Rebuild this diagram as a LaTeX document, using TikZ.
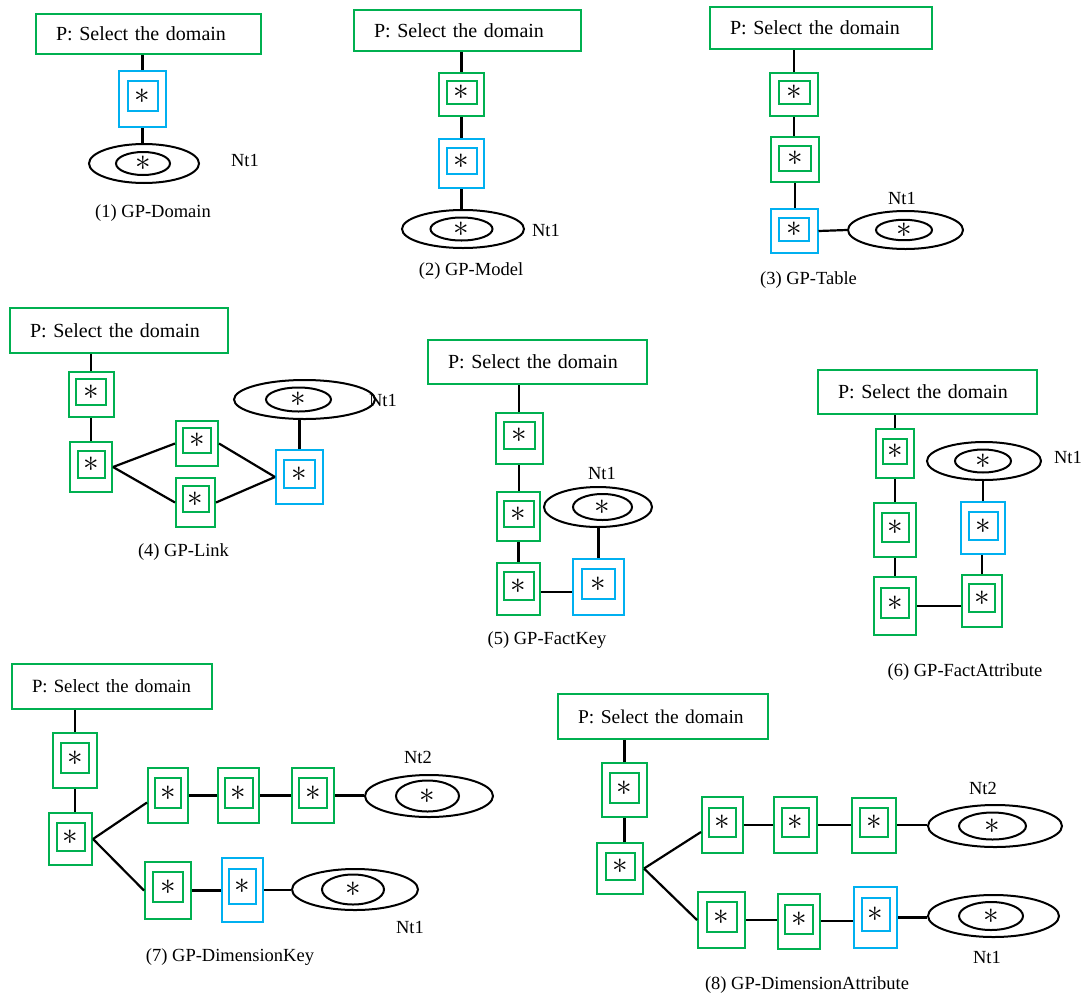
\documentclass[tikz,border=0pt]{standalone}
\usepackage{fontspec}
\setmainfont{Liberation Serif}
\usetikzlibrary{shapes.geometric}
\definecolor{gr}{RGB}{0,176,80}
\definecolor{bl}{RGB}{0,176,240}
\newcommand{\starsym}{\scalebox{1.25}{$\ast$}}
\tikzset{
  every node/.style={font=\fontsize{18.5}{22}\selectfont},
  ob/.style={draw=#1, line width=2pt, inner sep=0pt},
  ib/.style={draw=#1, line width=2pt, inner sep=0pt, font=\fontsize{30}{30}\selectfont},
  oe/.style={draw, ellipse, line width=2pt, inner sep=0pt},
  ln/.style={line width=2.2pt},
  topbox/.style={draw=gr, line width=2pt, anchor=north west, inner xsep=20pt, inner ysep=0pt, align=left, font=\fontsize{20}{24}\selectfont},
  lbl/.style={inner sep=0pt},
}
% name, colour, cx, cy, outer w, outer h, inner w, inner h, inner dy
\newcommand{\dbox}[9]{%
  \node[ob=#2, minimum width=#5pt, minimum height=#6pt] (#1) at (#3,#4) {};
  \node[ib=#2, minimum width=#7pt, minimum height=#8pt] (#1i) at (#3,{#4+(#9)}) {\starsym};}
% name, cx, cy, outer w, outer h, inner dx, inner w, inner h
\newcommand{\ntell}[8]{%
  \node[oe, minimum width=#4pt, minimum height=#5pt] (#1) at (#2,#3) {};
  \node[oe, minimum width=#7pt, minimum height=#8pt, font=\fontsize{30}{30}\selectfont] (#1i) at ({#2+(#6)},#3) {\starsym};}
\begin{document}
\begin{tikzpicture}[x=1pt,y=-1pt]
\useasboundingbox (0,0) rectangle (1086,996);

% ---------- (1) GP-Domain
\node[topbox, text width=185pt, minimum height=40pt] (top1) at (35,13) {P: Select the domain};
\dbox{b1a}{bl}{142.5}{99}{47}{56}{30}{30}{-3}
\ntell{ell1}{144}{163.5}{110}{39}{-1}{54}{23}
\draw[ln] (b1a.north) -- (top1.south -| b1a.north);
\draw[ln] (b1a.south) -- (b1a.south |- ell1.north);
\node[lbl] (lab1) at (245,160) {Nt1};
\node[lbl] (cap1) at (153,213) {(1) GP-Domain};

% ---------- (2) GP-Model
\node[topbox, text width=187pt, minimum height=41pt] (top2) at (353,9) {P: Select the domain};
\dbox{b2a}{gr}{461.5}{94.5}{45}{43}{30}{23}{-2}
\dbox{b2b}{bl}{461.5}{163.5}{45}{49}{30}{26}{-2.5}
\ntell{ell2}{463}{229}{122}{38}{-1.5}{62}{23}
\draw[ln] (b2a.north) -- (top2.south -| b2a.north);
\draw[ln] (b2a.south) -- (b2a.south |- b2b.north);
\draw[ln] (b2b.south) -- (b2b.south |- ell2.north);
\node[lbl] (lab2) at (546,230) {Nt1};
\node[lbl] (cap2) at (471,271) {(2) GP-Model};

% ---------- (3) GP-Table
\node[topbox, text width=182pt, minimum height=42pt] (top3) at (709,6) {P: Select the domain};
\dbox{b3a}{gr}{794}{94.5}{48}{43}{31}{23}{-2}
\dbox{b3b}{gr}{795}{159.5}{48}{45}{32}{25}{-1}
\dbox{b3c}{bl}{794}{231}{47}{44}{30}{23}{-1.5}
\ntell{ell3}{905.5}{230}{115}{38}{-1.5}{56}{20}
\draw[ln] (b3a.north) -- (top3.south -| b3a.north);
\draw[ln] (b3a.south) -- (b3a.south |- b3b.north);
\draw[ln] (b3b.south) -- (b3b.south |- b3c.north);
\draw[ln] (b3c.east) -- (ell3.west);
\node[lbl] (lab3) at (902,198) {Nt1};
\node[lbl] (cap3) at (808.5,280) {(3) GP-Table};

% ---------- (4) GP-Link
\node[topbox, text width=178pt, minimum height=45pt] (top4) at (9,307) {P: Select the domain};
\dbox{b4a}{gr}{91}{394.5}{45}{45}{30}{26}{-2.5}
\dbox{b4b}{gr}{91}{467}{42}{50}{27}{27}{-2.5}
\dbox{b4c}{gr}{197}{443.5}{42}{45}{28}{25}{-3}
\dbox{b4d}{gr}{195.5}{502.5}{39}{49}{26}{26}{-3.5}
\dbox{b4e}{bl}{299.5}{477}{47}{54}{31}{28}{-3}
\ntell{ell4}{304.5}{399.5}{141}{39}{-6}{65}{24}
\draw[ln] (b4a.north) -- (top4.south -| b4a.north);
\draw[ln] (b4a.south) -- (b4a.south |- b4b.north);
\draw[ln] (b4b.east) -- (b4c.west);
\draw[ln] (b4b.east) -- (b4d.west);
\draw[ln] (b4c.east) -- (b4e.west);
\draw[ln] (b4d.east) -- (b4e.west);
\draw[ln] (b4e.north) -- (b4e.north |- ell4.south);
\node[lbl] (lab4) at (383,400) {Nt1};
\node[lbl] (cap4) at (183.5,552) {(4) GP-Link};

% ---------- (5) GP-FactKey
\node[topbox, text width=179pt, minimum height=44pt] (top5) at (427,339) {P: Select the domain};
\dbox{b5a}{gr}{519}{438.5}{47}{51}{31}{27}{-3}
\dbox{b5b}{gr}{518.5}{516.5}{43}{49}{30}{26}{-2.5}
\dbox{b5c}{gr}{518.5}{589}{43}{52}{30}{28}{-3}
\dbox{b5d}{bl}{598.5}{587}{51}{56}{33}{30}{-3}
\ntell{ell5}{598}{507}{108}{40}{4.5}{59}{26}
\draw[ln] (b5a.north) -- (top5.south -| b5a.north);
\draw[ln] (b5a.south) -- (b5a.south |- b5b.north);
\draw[ln] (b5b.south) -- (b5b.south |- b5c.north);
\draw[ln] ([yshift=-3pt]b5c.east) -- ([yshift=-3pt]b5c.east -| b5d.west);
\draw[ln] (b5d.north) -- (b5d.north |- ell5.south);
\node[lbl] (lab5) at (602,473) {Nt1};
\node[lbl] (cap5) at (547,640) {(5) GP-FactKey};

% ---------- (6) GP-FactAttribute
\node[topbox, text width=179pt, minimum height=44pt] (top6) at (817,369) {P: Select the domain};
\dbox{b6a}{gr}{895}{453.5}{38}{49}{24}{25}{-2}
\dbox{b6b}{gr}{895}{530}{42}{54}{27}{29}{-2.5}
\dbox{b6c}{gr}{895}{606}{42}{58}{28}{30}{-3}
\dbox{b6d}{gr}{982}{601}{40}{52}{26}{28}{-3}
\dbox{b6e}{bl}{983}{528}{44}{52}{29}{28}{-2}
\ntell{ell6}{984}{461}{114}{38}{-1}{56}{23}
\draw[ln] (b6a.north) -- (top6.south -| b6a.north);
\draw[ln] (b6a.south) -- (b6a.south |- b6b.north);
\draw[ln] (b6b.south) -- (b6b.south |- b6c.north);
\draw[ln] (b6c.east) -- (b6c.east -| b6d.west);
\draw[ln] (b6d.north) -- (b6d.north |- b6e.south);
\draw[ln] (b6e.north) -- (b6e.north |- ell6.south);
\node[lbl] (lab6) at (1068,457) {Nt1};
\node[lbl] (cap6) at (965,672) {(6) GP-FactAttribute};

% ---------- (7) GP-DimensionKey
\node[topbox, text width=160pt, minimum height=45pt, font=\fontsize{18.7}{22}\selectfont] (top7) at (11,663) {P: Select the domain};
\dbox{b7a}{gr}{75}{760.5}{44}{55}{28}{30}{-2.5}
\dbox{b7b}{gr}{70.5}{839}{43}{52}{28}{28}{-2}
\dbox{b7c}{gr}{168}{795.5}{40}{55}{26}{30}{-2.5}
\dbox{b7d}{gr}{238.5}{795.5}{41}{55}{28}{30}{-2.5}
\dbox{b7f}{gr}{313}{795.5}{42}{55}{28}{30}{-2.5}
\ntell{ell7b}{429}{796}{128}{42}{-1.5}{63}{31}
\dbox{b7e}{gr}{168}{890.5}{46}{57}{30}{30}{-3.5}
\dbox{b7g}{bl}{242.5}{890}{41}{64}{27}{35}{-3.5}
\ntell{ell7a}{355}{889.5}{126}{41}{-2}{62}{30}
\draw[ln] (b7a.north) -- (top7.south -| b7a.north);
\draw[ln] (b7a.south) -- (b7a.south |- b7b.north);
\draw[ln] (b7b.east) -- ([yshift=-7pt]b7c.west);
\draw[ln] (b7b.east) -- (b7e.west);
\draw[ln] (b7c.east) -- (b7c.east -| b7d.west);
\draw[ln] (b7d.east) -- (b7d.east -| b7f.west);
\draw[ln] (b7f.east) -- (b7f.east -| ell7b.west);
\draw[ln] (b7e.east) -- (b7e.east -| b7g.west);
\draw[ln] (b7g.east) -- (b7g.east -| ell7a.west);
\node[lbl] (lab7b) at (418,757) {Nt2};
\node[lbl] (lab7a) at (410,927) {Nt1};
\node[lbl] (cap7) at (230,957) {(7) GP-DimensionKey};

% ---------- (8) GP-DimensionAttribute
\node[topbox, text width=170pt, minimum height=45pt, font=\fontsize{19.5}{23}\selectfont] (top8) at (557,693) {P: Select the domain};
\dbox{b8a}{gr}{624.5}{790}{45}{54}{29}{30}{-2}
\dbox{b8b}{gr}{620}{868.5}{46}{51}{29}{27}{-2}
\dbox{b8c}{gr}{722.5}{825}{41}{56}{27}{29}{-2.5}
\dbox{b8d}{gr}{795.5}{825}{43}{56}{27}{29}{-2.5}
\dbox{b8f}{gr}{874}{825}{44}{55}{28}{29}{-3}
\ntell{ell8b}{995}{826}{134}{42}{-2.5}{67}{27}
\dbox{b8e}{gr}{721.5}{920}{47}{56}{30}{30}{-3}
\dbox{b8g}{gr}{799}{921}{42}{55}{28}{29}{-2}
\dbox{b8h}{bl}{875.5}{917.5}{43}{61}{28}{33}{-3}
\ntell{ell8a}{993.5}{916}{131}{42}{-2.5}{64}{28}
\draw[ln] (b8a.north) -- (top8.south -| b8a.north);
\draw[ln] (b8a.south) -- (b8a.south |- b8b.north);
\draw[ln] (b8b.east) -- ([yshift=-7pt]b8c.west);
\draw[ln] (b8b.east) -- (b8e.west);
\draw[ln] (b8c.east) -- (b8c.east -| b8d.west);
\draw[ln] (b8d.east) -- (b8d.east -| b8f.west);
\draw[ln] (b8f.east) -- (b8f.east -| ell8b.west);
\draw[ln] (b8e.east) -- (b8e.east -| b8g.west);
\draw[ln] (b8g.east) -- (b8g.east -| b8h.west);
\draw[ln] (b8h.east) -- (b8h.east -| ell8a.west);
\node[lbl] (lab8b) at (983,788) {Nt2};
\node[lbl] (lab8a) at (987,957) {Nt1};
\node[lbl] (cap8) at (807,985) {(8) GP-DimensionAttribute};
\end{tikzpicture}
\end{document}
